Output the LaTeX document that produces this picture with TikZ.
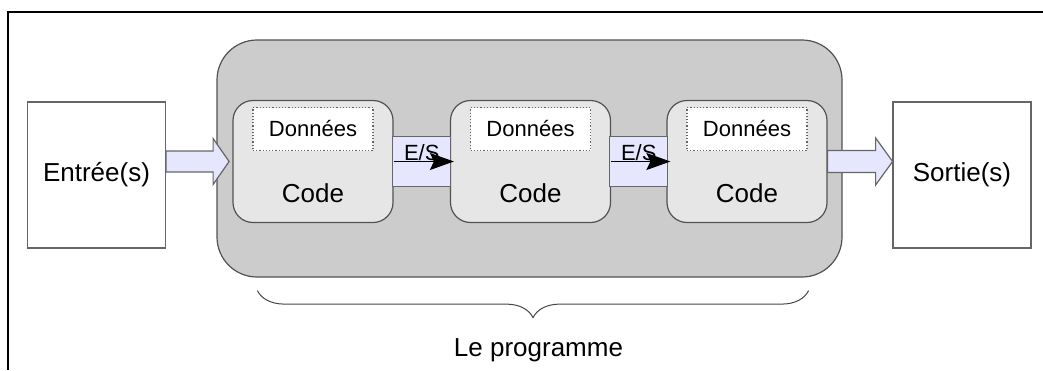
\documentclass[tikz,border=0pt]{standalone}
\usepackage{fontspec}
\setmainfont{Liberation Sans}
\usetikzlibrary{positioning, arrows.meta, calc, decorations.pathreplacing}

\definecolor{progfill}{HTML}{CCCCCC}
\definecolor{codefill}{HTML}{E6E6E6}
\definecolor{flowfill}{HTML}{E6E6FF}
\definecolor{edgegray}{HTML}{666666}

\begin{document}
\begin{tikzpicture}[x=1pt, y=-1pt,
    big/.style={font=\fontsize{26}{30}\selectfont},
    small/.style={font=\fontsize{22}{26}\selectfont},
    iobox/.style={draw=edgegray, line width=1.2pt, fill=white, minimum width=138pt, minimum height=146pt, big},
    progbox/.style={draw=edgegray!80!black, line width=1.2pt, fill=progfill, rounded corners=40pt, minimum width=625pt, minimum height=237pt},
    codebox/.style={draw=edgegray!80!black, line width=1.2pt, fill=codefill, rounded corners=20pt, minimum width=160pt, minimum height=122pt},
    databox/.style={draw=edgegray, dotted, line width=1.2pt, fill=white, minimum width=120pt, minimum height=43pt, small},
    band/.style={draw=edgegray, line width=1.2pt, fill=flowfill, minimum width=58pt, minimum height=50pt},
    blockarrow/.style={draw=edgegray, line width=1.2pt, fill=flowfill},
    flow/.style={-{Stealth[length=24pt, width=17pt, inset=4pt]}, line width=1pt, shorten >=-4pt},
    brace/.style={decorate, decoration={brace, mirror, amplitude=27pt}, draw=edgegray!70!black, line width=1pt}
]
    \useasboundingbox (0,0) rectangle (1043,370);

    % cadre
    \draw[line width=2.5pt] (8,370) -- (8,12) -- (1043,12);

    \node[iobox] (entree) at (96.5,175) {Entrée(s)};
    \node[iobox] (sortie) at (962,175) {Sortie(s)};

    \node[progbox] (prog) at (529.5,158.5) {};

    \node[codebox] (code1) at (313,161.5) {};
    \node[codebox] (code2) at (530.5,161.5) {};
    \node[codebox] (code3) at (747,161.5) {};

    \node[databox, below=7pt of code1.north] (data1) {Données};
    \node[databox, below=7pt of code2.north] (data2) {Données};
    \node[databox, below=7pt of code3.north] (data3) {Données};

    \node[big] at ($(code1.south)+(0,-30)$) {Code};
    \node[big] at ($(code2.south)+(0,-30)$) {Code};
    \node[big] at ($(code3.south)+(0,-30)$) {Code};

    % entrees/sorties entre les blocs
    \node[band] (io1) at ($(code1.east)!0.5!(code2.west)$) {};
    \node[band] (io2) at ($(code2.east)!0.5!(code3.west)$) {};
    \draw[flow] (code1.east) -- node[small, above=-3pt] {E/S} (code2.west);
    \draw[flow] (code2.east) -- node[small, above=-3pt] {E/S} (code3.west);

    % fleches d'entree et de sortie
    \draw[blockarrow] (entree.east |- code1.west) ++(0,-10.5) -- ++(47,0) -- ++(0,-12.5)
        -- ++(16,23) -- ++(-16,23) -- ++(0,-12.5) -- ++(-47,0) -- cycle;
    \draw[blockarrow] (code3.east) ++(0,-11) -- ++(48,0) -- ++(0,-12.5)
        -- ++(17,23.5) -- ++(-17,23.5) -- ++(0,-12.5) -- ++(-48,0) -- cycle;

    \draw[brace] ($(prog.south west)+(41,13)$) -- ($(prog.south east)+(-34,13)$);
    \node[big] (titre) at ($(prog.south)+(9,73)$) {Le programme};
\end{tikzpicture}
\end{document}
